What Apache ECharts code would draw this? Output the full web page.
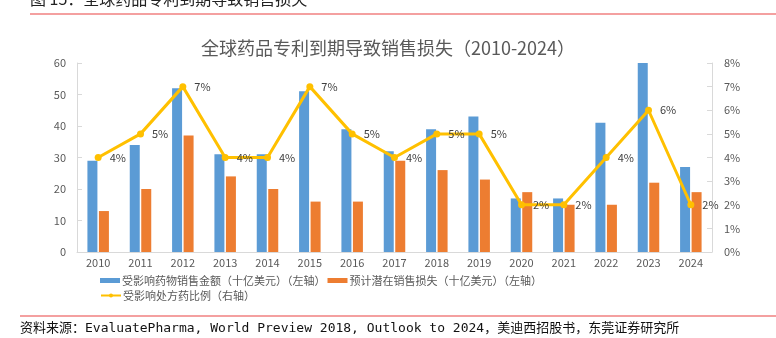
<!DOCTYPE html>
<html><head><meta charset="utf-8">
<script src="https://cdn.jsdelivr.net/npm/echarts@6/dist/echarts.min.js"></script>
<style>html,body{margin:0;padding:0;background:#fff}#c{width:776px;height:338px}</style>
</head><body><div id="c"></div>
<script>
var categories = ['2010','2011','2012','2013','2014','2015','2016','2017','2018','2019','2020','2021','2022','2023','2024'];
var salesAffected = [29,34,52,31,31,51,39,32,39,43,17,17,41,60,27];
var salesLoss = [13,20,37,24,20,16,16,29,26,23,19,15,15,22,19];
var rxShare = [4,5,7,4,4,7,5,4,5,5,2,2,4,6,2];
var leftTicks = [0,10,20,30,40,50,60];
var rightTicks = ['0%','1%','2%','3%','4%','5%','6%','7%','8%'];

var font = '"Noto Sans CJK SC", "Noto Sans", sans-serif';
var chart = echarts.init(document.getElementById('c'));
var axisGray = '#D9D9D9';
var txt = '#595959';
var n1 = '受影响药物销售金额（十亿美元）（左轴）';
var n2 = '预计潜在销售损失（十亿美元）（左轴）';
var n3 = '受影响处方药比例（右轴）';
var legendText = {fontSize: 11, color: txt, fontFamily: font, padding: [0,0,0,-3]};
chart.setOption({
  animation: false,
  textStyle: {fontFamily: font},
  title: {
    text: '全球药品专利到期导致销售损失（2010-2024）',
    left: 'center', top: 34,
    textStyle: {fontSize: 18, fontWeight: 'normal', color: '#595959', fontFamily: font}
  },
  grid: {left: 77, right: 64, top: 63, bottom: 86},
  legend: [{
    left: 95, top: 270, itemGap: 2, itemWidth: 20, itemHeight: 5,
    textStyle: legendText,
    data: [{name: n1, icon: 'rect'}, {name: n2, icon: 'rect'}]
  }, {
    left: 95, top: 285, itemGap: 4, itemWidth: 20, itemHeight: 5,
    textStyle: legendText,
    data: [{name: n3}]
  }],
  xAxis: {
    type: 'category', data: categories,
    axisLine: {lineStyle: {color: axisGray}},
    axisTick: {show: false},
    axisLabel: {color: txt, fontSize: 11, margin: 5}
  },
  yAxis: [{
    type: 'value', min: leftTicks[0], max: leftTicks[leftTicks.length-1], interval: 10,
    axisLine: {show: true, lineStyle: {color: axisGray}},
    axisTick: {show: true, inside: true, length: 5, lineStyle: {color: axisGray}},
    splitLine: {show: false},
    axisLabel: {color: txt, fontSize: 11, margin: 11}
  }, {
    type: 'value', min: 0, max: 8, interval: 1,
    axisLine: {show: true, lineStyle: {color: axisGray}},
    axisTick: {show: true, inside: true, length: 5, lineStyle: {color: axisGray}},
    splitLine: {show: false},
    axisLabel: {color: txt, fontSize: 11, margin: 12, formatter: function(v){ return rightTicks[Math.round(v)]; }}
  }],
  series: [{
    name: n1, type: 'bar', data: salesAffected,
    barWidth: 10, barGap: '15%', itemStyle: {color: '#5B9BD5'}
  }, {
    name: n2, type: 'bar', data: salesLoss,
    barWidth: 10, barGap: '15%', itemStyle: {color: '#ED7D31'}
  }, {
    name: n3, type: 'line', yAxisIndex: 1, data: rxShare,
    symbol: 'circle', symbolSize: 7,
    lineStyle: {color: '#FFC000', width: 3}, itemStyle: {color: '#FFC000'},
    label: {show: true, position: 'right', distance: 8, color: '#404040', fontSize: 11,
      formatter: function(p){ return p.value + '%'; }}
  }],
  graphic: [
    {type: 'text', left: 30, top: -9, style: {text: '图 15：全球药品专利到期导致销售损失', font: '16px ' + font, fill: '#222'}},
    {type: 'rect', shape: {x: 30, y: 13, width: 746, height: 2}, style: {fill: '#F4A0A0'}},
    {type: 'rect', shape: {x: 20, y: 315, width: 756, height: 2}, style: {fill: '#F4A0A0'}},
    {type: 'text', left: 20, top: 322, style: {text: '资料来源：EvaluatePharma, World Preview 2018, Outlook to 2024，美迪西招股书，东莞证券研究所', font: '13px "DejaVu Sans Mono", ' + font, fill: '#111'}}
  ]
});
</script></body></html>
